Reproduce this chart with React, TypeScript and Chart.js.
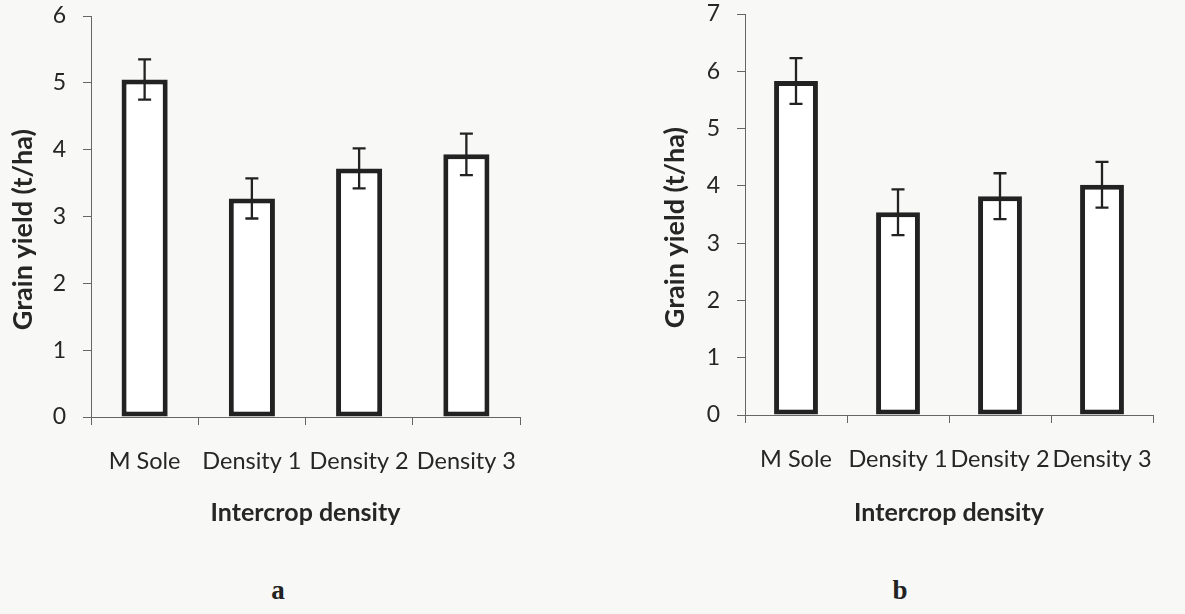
import React, { useEffect, useRef } from "react";
import { Chart, registerables } from "chart.js";

Chart.register(...registerables);

const categories = ["M Sole", "Density 1", "Density 2", "Density 3"];
const yieldA = [5.05, 3.27, 3.72, 3.93];
const errorA = [0.3, 0.3, 0.3, 0.31];
const yieldB = [5.83, 3.54, 3.82, 4.02];
const errorB = [0.4, 0.4, 0.4, 0.4];
const maxA = 6;
const maxB = 7;
const yTitle = "Grain yield (t/ha)    ";
const xTitle = "Intercrop density";

const FONT = "Lato, 'Open Sans', sans-serif";
const INK = "#222222";
const AXIS = "#666666";
const TEXT = "#262626";

const errorBarPlugin = {
  id: "errorBars",
  afterDatasetsDraw(chart: any) {
    const errs: number[] = chart.options.plugins.errorBars.errors;
    const ds = chart.data.datasets[0];
    const xs = chart.scales.x;
    const ys = chart.scales.y;
    const ctx = chart.ctx;
    ctx.save();
    ctx.strokeStyle = INK;
    ctx.lineWidth = 2.3;
    ds.data.forEach((v: number, i: number) => {
      const x = xs.getPixelForValue(i);
      const yT = ys.getPixelForValue(v + errs[i]);
      const yB = ys.getPixelForValue(v - errs[i]);
      const cw = 6.5;
      ctx.beginPath();
      ctx.moveTo(x, yT);
      ctx.lineTo(x, yB);
      ctx.moveTo(x - cw, yT);
      ctx.lineTo(x + cw, yT);
      ctx.moveTo(x - cw, yB);
      ctx.lineTo(x + cw, yB);
      ctx.stroke();
    });
    ctx.restore();
  },
};

type Spec = {
  values: number[];
  errors: number[];
  max: number;
  yAxisWidth: number;
  xAxisHeight: number;
  padTop: number;
  padRight: number;
  yTitlePad: number;
  barPct: number;
};

function BarChart({ spec, width, height }: { spec: Spec; width: number; height: number }) {
  const ref = useRef<HTMLCanvasElement | null>(null);
  useEffect(() => {
    if (!ref.current) return;
    const chart = new Chart(ref.current, {
      type: "bar",
      data: {
        labels: categories,
        datasets: [
          {
            data: spec.values,
            backgroundColor: "rgba(255,255,255,0.9)",
            borderColor: INK,
            borderWidth: 5,
            borderSkipped: false,
            barPercentage: spec.barPct,
            categoryPercentage: 1,
          },
        ],
      },
      options: {
        responsive: false,
        animation: false,
        devicePixelRatio: 1,
        layout: { padding: { top: spec.padTop, right: spec.padRight, left: 0, bottom: 0 } },
        plugins: {
          legend: { display: false },
          tooltip: { enabled: false },
          errorBars: { errors: spec.errors },
        } as any,
        scales: {
          x: {
            grid: {
              display: true,
              drawOnChartArea: false,
              drawTicks: true,
              tickLength: 8,
              color: AXIS,
              offset: true,
            },
            border: { display: true, color: AXIS, width: 1 },
            ticks: {
              autoSkip: false,
              maxRotation: 0,
              minRotation: 0,
              padding: 22,
              color: TEXT,
              font: { family: FONT, size: 23.5 },
            },
            title: {
              display: true,
              text: xTitle,
              color: TEXT,
              font: { family: FONT, size: 25, weight: "bold" },
              padding: { top: 4, bottom: 12 },
            },
            afterFit: (s: any) => {
              s.height = spec.xAxisHeight;
              s.paddingLeft = 0;
              s.paddingRight = 0;
            },
          },
          y: {
            min: 0,
            max: spec.max,
            grid: {
              display: true,
              drawOnChartArea: false,
              drawTicks: true,
              tickLength: 8,
              color: AXIS,
            },
            border: { display: true, color: AXIS, width: 1 },
            ticks: {
              stepSize: 1,
              padding: 17,
              color: TEXT,
              font: { family: FONT, size: 23 },
            },
            title: {
              display: true,
              text: yTitle,
              color: TEXT,
              font: { family: FONT, size: 27, weight: "bold" },
              padding: { top: spec.yTitlePad, bottom: 4 },
            },
            afterFit: (s: any) => {
              s.width = spec.yAxisWidth;
              s.paddingTop = 0;
              s.paddingBottom = 0;
            },
          },
        },
      } as any,
      plugins: [errorBarPlugin],
    });
    return () => chart.destroy();
  }, []);
  return <canvas ref={ref} width={width} height={height} style={{ width, height, display: "block" }} />;
}

const specA: Spec = {
  values: yieldA,
  errors: errorA,
  max: maxA,
  yAxisWidth: 91,
  xAxisHeight: 123,
  padTop: 16,
  padRight: 40,
  yTitlePad: 7,
  barPct: 0.43,
};

const specB: Spec = {
  values: yieldB,
  errors: errorB,
  max: maxB,
  yAxisWidth: 125,
  xAxisHeight: 125,
  padTop: 14,
  padRight: 32,
  yTitlePad: 39,
  barPct: 0.43,
};

export default function App() {
  return (
    <div
      style={{
        position: "fixed",
        left: 0,
        top: 0,
        width: 1185,
        height: 614,
        background: "#f8f8f7",
        overflow: "hidden",
      }}
    >
      <div style={{ position: "absolute", left: 0, top: 0 }}>
        <BarChart spec={specA} width={560} height={540} />
      </div>
      <div style={{ position: "absolute", left: 620, top: 0 }}>
        <BarChart spec={specB} width={565} height={540} />
      </div>
      <div
        style={{
          position: "absolute",
          left: 258,
          top: 572,
          width: 40,
          textAlign: "center",
          font: "bold 27px 'Liberation Serif', serif",
          color: "#222",
          lineHeight: "36px",
        }}
      >
        a
      </div>
      <div
        style={{
          position: "absolute",
          left: 880,
          top: 572,
          width: 40,
          textAlign: "center",
          font: "bold 27px 'Liberation Serif', serif",
          color: "#222",
          lineHeight: "36px",
        }}
      >
        b
      </div>
    </div>
  );
}
